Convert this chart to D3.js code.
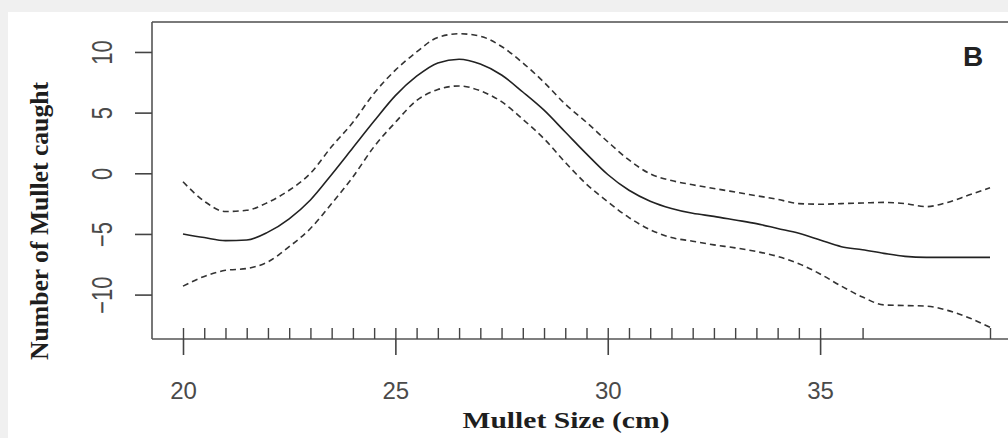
<!DOCTYPE html>
<html>
<head>
<meta charset="utf-8">
<script src="https://cdn.jsdelivr.net/npm/d3@7"></script>
<style>
  html, body { margin: 0; padding: 0; background: #f0f0f0; }
  svg { display: block; }
</style>
</head>
<body>
<svg id="chart" width="1008" height="438"></svg>
<script>
// ---- data ----
const sizes = [20,20.5,21,21.5,22,22.5,23,23.5,24,24.5,25,25.5,26,26.5,27,27.5,28,28.5,29,29.5,
               30,30.5,31,31.5,32,32.5,33,33.5,34,34.5,35,35.5,36,36.5,37,37.5,38,38.5,39];
const fitValues = [-5.0,-5.3,-5.55,-5.5,-4.85,-3.75,-2.2,-0.1,2.1,4.3,6.4,8.0,9.1,9.4,9.0,8.1,6.7,5.2,3.4,1.6,
                   -0.1,-1.4,-2.3,-2.9,-3.3,-3.55,-3.85,-4.15,-4.55,-4.95,-5.5,-6.05,-6.3,-6.6,-6.85,-6.93,-6.93,-6.93,-6.93];
const upperValues = [-0.7,-2.3,-3.15,-3.05,-2.4,-1.4,0.0,2.2,4.2,6.6,8.5,10.0,11.2,11.5,11.3,10.45,9.1,7.5,5.7,4.2,
                     2.6,1.1,-0.05,-0.6,-0.95,-1.25,-1.55,-1.85,-2.15,-2.5,-2.55,-2.5,-2.45,-2.4,-2.5,-2.75,-2.4,-1.8,-1.2];
const lowerValues = [-9.3,-8.5,-8.0,-7.85,-7.3,-6.05,-4.55,-2.5,-0.3,2.2,4.2,6.0,6.9,7.2,6.8,5.9,4.45,2.85,0.9,-0.9,
                     -2.35,-3.65,-4.65,-5.3,-5.6,-5.9,-6.15,-6.45,-6.85,-7.45,-8.3,-9.3,-10.2,-10.85,-10.9,-10.95,-11.3,-11.9,-12.7];
const rugValues = [20,20.5,21,21.5,22,22.5,23,23.5,24,24.5,25,25.5,26,26.5,27,27.5,28,28.5,29,29.5,
                   30,30.5,31,31.5,32,32.5,33,33.5,34,34.5,35,36,39];
const xTicks = [20,25,30,35];
const yTicks = [-10,-5,0,5,10];
const xTitle = "Mullet Size (cm)";
const yTitle = "Number of Mullet caught";
const panelLabel = "B";

// ---- layout ----
const svg = d3.select("#chart");
svg.append("rect").attr("x", 8).attr("y", 12).attr("width", 1000).attr("height", 426).attr("fill", "#ffffff");

const box = { left: 152, top: 22, bottom: 339, right: 1012 };
const x = d3.scaleLinear().domain([20, 39]).range([183, 990]);
const y = d3.scaleLinear().domain([-13.66, 12.47]).range([box.bottom, box.top]);

// frame
svg.append("line").attr("x1", box.left).attr("x2", box.right).attr("y1", box.top).attr("y2", box.top)
  .attr("stroke", "#7a7a7a").attr("stroke-width", 2.2);
svg.append("line").attr("x1", box.left).attr("x2", box.left).attr("y1", box.top).attr("y2", box.bottom)
  .attr("stroke", "#555").attr("stroke-width", 1.6);
svg.append("line").attr("x1", box.left).attr("x2", box.right).attr("y1", box.bottom).attr("y2", box.bottom)
  .attr("stroke", "#555").attr("stroke-width", 1.6);

// rug (ticks pointing up)
const rugAxis = d3.axisBottom(x).tickValues(rugValues).tickSize(-11).tickFormat("");
const rugG = svg.append("g").attr("transform", `translate(0,${box.bottom})`).call(rugAxis);
rugG.select(".domain").remove();
rugG.selectAll("line").attr("stroke", "#444").attr("stroke-width", 1.4);

// x axis
const xAxis = d3.axisBottom(x).tickValues(xTicks).tickSize(16).tickFormat(d3.format("d"));
const xg = svg.append("g").attr("transform", `translate(0,${box.bottom})`).call(xAxis);
xg.select(".domain").remove();
xg.selectAll("line").attr("stroke", "#444").attr("stroke-width", 1.6);
xg.selectAll("text").attr("y", 60).attr("dy", 0)
  .attr("font-family", "Liberation Sans, Arial, sans-serif").attr("font-size", 24).attr("fill", "#4a4a4a");

// y axis
const yAxis = d3.axisLeft(y).tickValues(yTicks).tickSize(17).tickFormat(d3.format("d"));
const yg = svg.append("g").attr("transform", `translate(${box.left},0)`).call(yAxis);
yg.select(".domain").remove();
yg.selectAll("line").attr("stroke", "#444").attr("stroke-width", 1.6);
yg.selectAll("text").attr("x", 0).attr("y", 0).attr("dy", 0)
  .attr("text-anchor", "middle")
  .attr("transform", "translate(-40,0) rotate(-90) scale(1,1.3)")
  .attr("font-family", "Liberation Sans, Arial, sans-serif").attr("font-size", 22).attr("fill", "#4a4a4a");

// curves
const line = vals => d3.line().x((d, i) => x(sizes[i])).y(d => y(d)).curve(d3.curveMonotoneX)(vals);
svg.append("path").attr("d", line(upperValues)).attr("fill", "none")
  .attr("stroke", "#333").attr("stroke-width", 1.6).attr("stroke-dasharray", "6,4");
svg.append("path").attr("d", line(lowerValues)).attr("fill", "none")
  .attr("stroke", "#333").attr("stroke-width", 1.6).attr("stroke-dasharray", "6,4");
svg.append("path").attr("d", line(fitValues)).attr("fill", "none")
  .attr("stroke", "#222").attr("stroke-width", 1.6);

// titles
svg.append("text").attr("x", 566).attr("y", 428).attr("text-anchor", "middle")
  .attr("font-family", "Liberation Serif, Times New Roman, serif").attr("font-weight", "bold")
  .attr("font-size", 24).attr("fill", "#1e1e1e")
  .attr("textLength", 207).attr("lengthAdjust", "spacingAndGlyphs")
  .text(xTitle);
svg.append("text").attr("transform", "translate(48,221) rotate(-90)").attr("text-anchor", "middle")
  .attr("font-family", "Liberation Serif, Times New Roman, serif").attr("font-weight", "bold")
  .attr("font-size", 26).attr("fill", "#1e1e1e")
  .attr("textLength", 278).attr("lengthAdjust", "spacingAndGlyphs")
  .text(yTitle);

// panel label
svg.append("text").attr("x", 973).attr("y", 66).attr("text-anchor", "middle")
  .attr("font-family", "Liberation Sans, Arial, sans-serif").attr("font-weight", "bold")
  .attr("font-size", 28).attr("fill", "#222")
  .text(panelLabel);
</script>
</body>
</html>
